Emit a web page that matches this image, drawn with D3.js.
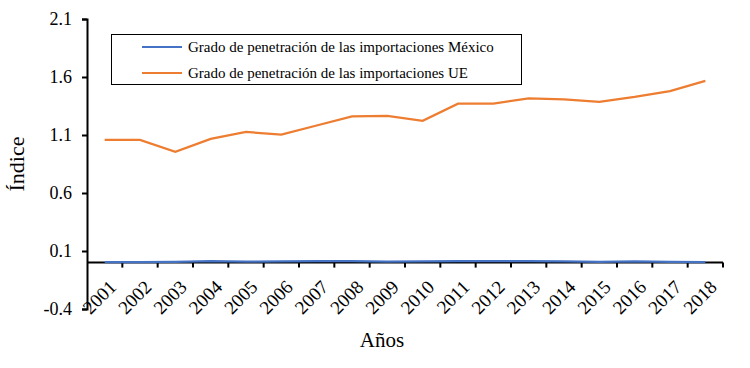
<!DOCTYPE html>
<html>
<head>
<meta charset="utf-8">
<script src="https://cdn.jsdelivr.net/npm/d3@7"></script>
<style>
  body { margin: 0; background: #fff; }
</style>
</head>
<body>
<svg width="750" height="368"></svg>
<script>
// data
var years = ["2001","2002","2003","2004","2005","2006","2007","2008","2009",
             "2010","2011","2012","2013","2014","2015","2016","2017","2018"];
var mexico = [0.005,0.005,0.006,0.012,0.008,0.011,0.012,0.012,0.008,
              0.011,0.012,0.012,0.012,0.011,0.006,0.010,0.007,0.005];
var ue = [1.057,1.057,0.955,1.066,1.126,1.104,1.182,1.260,1.265,
          1.222,1.370,1.370,1.416,1.408,1.385,1.428,1.478,1.566];
var yTicks = [-0.4, 0.1, 0.6, 1.1, 1.6, 2.1];

var serif = "'Liberation Serif', 'Times New Roman', 'DejaVu Serif', serif";

var svg = d3.select("svg");
var margin = {top: 19, left: 87, right: 27, bottom: 59};
var width = 750 - margin.left - margin.right,
    height = 368 - margin.top - margin.bottom;

var g = svg.append("g")
    .attr("transform", "translate(" + margin.left + "," + margin.top + ")");

var x = d3.scaleBand().domain(years).range([0, width]);
var y = d3.scaleLinear().domain([-0.4, 2.1]).range([height, 0]);

// y axis
var yAxis = g.append("g")
    .call(d3.axisLeft(y).tickValues(yTicks).tickSize(5)
      .tickFormat(function(d) { return d.toFixed(1); }));
yAxis.attr("font-family", serif);
yAxis.select(".domain").attr("stroke", "#000").attr("stroke-width", 2);
yAxis.selectAll(".tick line").attr("stroke-width", 2);
yAxis.selectAll(".tick text")
    .attr("x", -15)
    .style("font-family", serif)
    .style("font-size", "18px")
    .attr("fill", "#000");

// x axis at zero
var xAxis = g.append("g")
    .attr("transform", "translate(0," + y(0) + ")");
xAxis.append("line")
    .attr("x1", 0).attr("x2", width)
    .attr("stroke", "#000").attr("stroke-width", 2);
xAxis.selectAll(".tk")
    .data(years)
    .enter().append("line")
    .attr("x1", function(d, i) { return x.step() * (i + 1); })
    .attr("x2", function(d, i) { return x.step() * (i + 1); })
    .attr("y1", 0).attr("y2", 5)
    .attr("stroke", "#000").attr("stroke-width", 2);
xAxis.selectAll(".lbl")
    .data(years)
    .enter().append("text")
    .attr("transform", function(d) {
      return "translate(" + (x(d) + x.bandwidth() / 2 + 2) + ",15) rotate(-45)";
    })
    .attr("text-anchor", "end")
    .attr("dy", "0.8em")
    .style("font-family", serif)
    .style("font-size", "19px")
    .text(function(d) { return d; });

var line = d3.line()
    .x(function(d, i) { return x(years[i]) + x.bandwidth() / 2; })
    .y(function(d) { return y(d); });

g.append("path").datum(ue)
    .attr("fill", "none").attr("stroke", "#ED7D31").attr("stroke-width", 2.25)
    .attr("d", line);
g.append("path").datum(mexico)
    .attr("fill", "none").attr("stroke", "#4472C4").attr("stroke-width", 2.25)
    .attr("d", line);

// axis titles
svg.append("text")
    .attr("transform", "translate(24,164) rotate(-90)")
    .attr("text-anchor", "middle")
    .style("font-family", serif)
    .style("font-size", "22px")
    .text("Índice");
svg.append("text")
    .attr("x", 382).attr("y", 347)
    .attr("text-anchor", "middle")
    .style("font-family", serif)
    .style("font-size", "21px")
    .text("Años");

// legend
var legend = svg.append("g");
legend.append("rect")
    .attr("x", 111.5).attr("y", 34.5).attr("width", 410).attr("height", 50)
    .attr("fill", "#fff").attr("stroke", "#000").attr("stroke-width", 1);
var series = [{name: "Grado de penetración de las importaciones México", color: "#4472C4"},
              {name: "Grado de penetración de las importaciones UE", color: "#ED7D31"}];
series.forEach(function(s, i) {
  var ly = 47 + i * 26;
  legend.append("line")
      .attr("x1", 142).attr("x2", 182).attr("y1", ly).attr("y2", ly)
      .attr("stroke", s.color).attr("stroke-width", 2);
  legend.append("text")
      .attr("x", 188).attr("y", ly + 5)
      .style("font-family", serif)
      .style("font-size", "15px")
      .text(s.name);
});
</script>
</body>
</html>
